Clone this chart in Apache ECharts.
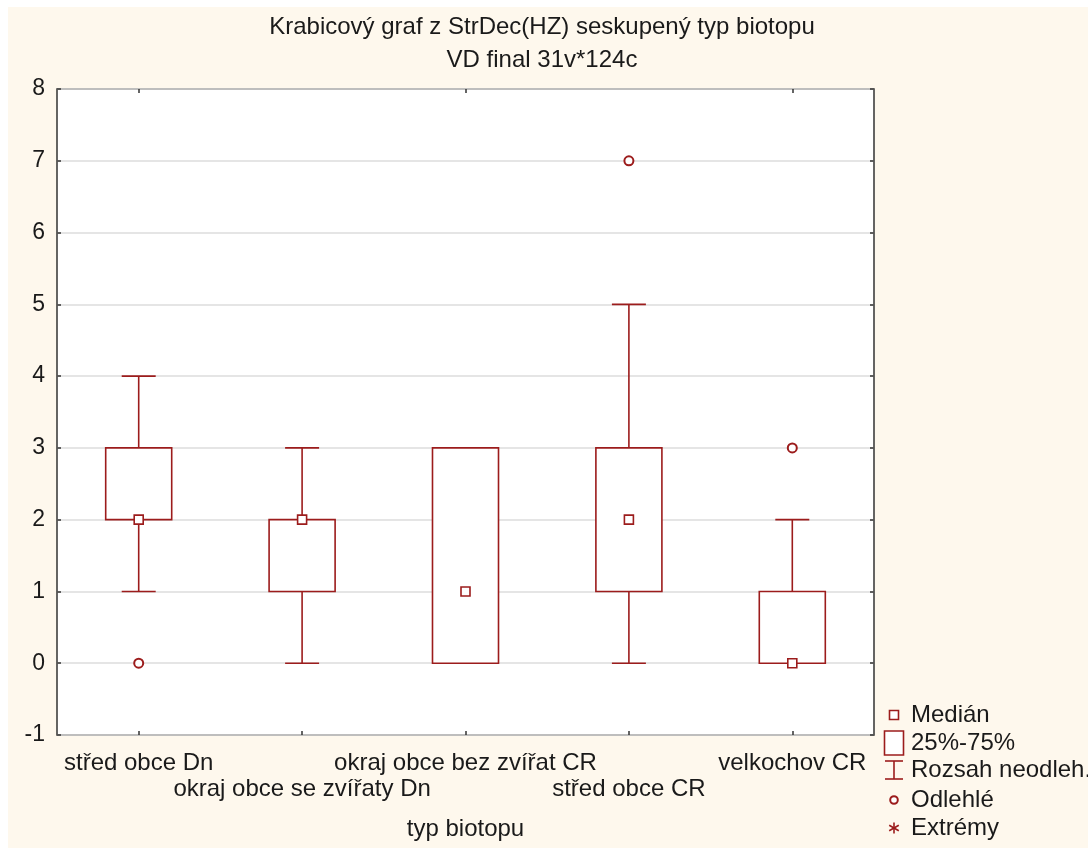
<!DOCTYPE html>
<html>
<head>
<meta charset="utf-8">
<script src="https://cdn.jsdelivr.net/npm/echarts@6/dist/echarts.min.js"></script>
<style>
  html, body { margin: 0; padding: 0; background: #ffffff; }
  #bg { position: absolute; left: 8px; top: 7px; width: 1080px; height: 841px; background: #fef8ed; }
  #chart { position: absolute; left: 0; top: 0; width: 1088px; height: 848px; }
</style>
</head>
<body>
<div id="bg"></div>
<div id="chart"></div>
<script>
// ---- data ----
const titleLines = ['Krabicový graf z StrDec(HZ) seskupený typ biotopu', 'VD final 31v*124c'];
const xAxisName = 'typ biotopu';
const categories = ['střed obce Dn', 'okraj obce se zvířaty Dn', 'okraj obce bez zvířat CR', 'střed obce CR', 'velkochov CR'];
const whiskerLow  = [1, 0, 0, 0, 0];
const q1          = [2, 1, 0, 1, 0];
const median      = [2, 2, 1, 2, 0];
const q3          = [3, 2, 3, 3, 1];
const whiskerHigh = [4, 3, 3, 5, 2];
const outlierCat  = [0, 3, 4];
const outlierVal  = [0, 7, 3];
const extremeCat  = [];
const extremeVal  = [];
const yTicks = [-1, 0, 1, 2, 3, 4, 5, 6, 7, 8];
const legendLabels = ['Medián', '25%-75%', 'Rozsah neodleh.', 'Odlehlé', 'Extrémy'];

// ---- style ----
const RED = '#9c1c1c';
const FONT = '"Liberation Sans", Arial, sans-serif';
const FS = 24;

const boxData = categories.map((c, i) => [i, whiskerLow[i], q1[i], median[i], q3[i], whiskerHigh[i]]);
const medianData = categories.map((c, i) => [i, median[i]]);
const outlierData = outlierCat.map((c, i) => [c, outlierVal[i]]);
const extremeData = extremeCat.map((c, i) => [c, extremeVal[i]]);

function renderBox(params, api) {
  const i = api.value(0);
  const lo = api.coord([i, api.value(1)]);
  const b1 = api.coord([i, api.value(2)]);
  const b3 = api.coord([i, api.value(4)]);
  const hi = api.coord([i, api.value(5)]);
  const cw = api.size([1, 0])[0];
  const bw = cw * 0.404;
  const capw = cw * 0.208;
  const x = b1[0];
  const ls = { stroke: RED, lineWidth: 1.6, fill: null };
  const children = [];
  if (Math.abs(lo[1] - b1[1]) > 0.5) {
    children.push({ type: 'line', shape: { x1: x, y1: b1[1], x2: x, y2: lo[1] }, style: ls });
    children.push({ type: 'line', shape: { x1: x - capw / 2, y1: lo[1], x2: x + capw / 2, y2: lo[1] }, style: ls });
  }
  if (Math.abs(hi[1] - b3[1]) > 0.5) {
    children.push({ type: 'line', shape: { x1: x, y1: b3[1], x2: x, y2: hi[1] }, style: ls });
    children.push({ type: 'line', shape: { x1: x - capw / 2, y1: hi[1], x2: x + capw / 2, y2: hi[1] }, style: ls });
  }
  children.push({ type: 'rect', shape: { x: x - bw / 2, y: b3[1], width: bw, height: b1[1] - b3[1] },
    style: { stroke: RED, lineWidth: 1.6, fill: '#ffffff' } });
  return { type: 'group', children };
}

// legend graphics
const LX = 894, LT = 911;
const legY = [715, 743, 770, 800, 828];
const lineStyle = { stroke: RED, lineWidth: 1.6, fill: null };
const graphics = [
  { type: 'rect', shape: { x: LX - 4.5, y: legY[0] - 4.5, width: 9, height: 9 }, style: { stroke: RED, lineWidth: 1.6, fill: '#fff' } },
  { type: 'rect', shape: { x: LX - 9.5, y: legY[1] - 12, width: 19, height: 24 }, style: { stroke: RED, lineWidth: 1.6, fill: '#fff' } },
  { type: 'line', shape: { x1: LX - 9, y1: legY[2] - 9, x2: LX + 9, y2: legY[2] - 9 }, style: lineStyle },
  { type: 'line', shape: { x1: LX - 9, y1: legY[2] + 9, x2: LX + 9, y2: legY[2] + 9 }, style: lineStyle },
  { type: 'line', shape: { x1: LX, y1: legY[2] - 9, x2: LX, y2: legY[2] + 9 }, style: lineStyle },
  { type: 'circle', shape: { cx: LX, cy: legY[3], r: 3.8 }, style: { stroke: RED, lineWidth: 2, fill: '#fff' } },
  { type: 'line', shape: { x1: LX, y1: legY[4] - 5.5, x2: LX, y2: legY[4] + 5.5 }, style: lineStyle },
  { type: 'line', shape: { x1: LX - 4.8, y1: legY[4] - 2.8, x2: LX + 4.8, y2: legY[4] + 2.8 }, style: lineStyle },
  { type: 'line', shape: { x1: LX - 4.8, y1: legY[4] + 2.8, x2: LX + 4.8, y2: legY[4] - 2.8 }, style: lineStyle }
];
legendLabels.forEach((t, k) => {
  graphics.push({ type: 'text', x: LT, y: legY[k],
    style: { text: t, font: FS + 'px ' + FONT, fill: '#1a1a1a', textVerticalAlign: 'middle', textAlign: 'left' } });
});
const titleY = [27, 60];
titleLines.forEach((t, k) => {
  graphics.push({ type: 'text', x: 542, y: titleY[k],
    style: { text: t, font: FS + 'px ' + FONT, fill: '#1a1a1a', textVerticalAlign: 'middle', textAlign: 'center' } });
});

const chart = echarts.init(document.getElementById('chart'), null, { renderer: 'canvas' });
chart.setOption({
  backgroundColor: 'transparent',
  animation: false,
  grid: { left: 57, right: 214, top: 89, bottom: 113, show: true, backgroundColor: '#ffffff', borderColor: '#333333', borderWidth: 1.5 },
  xAxis: [
    {
      type: 'category', data: categories, boundaryGap: true, position: 'bottom',
      axisLine: { show: false, onZero: false },
      axisTick: { show: true, inside: true, alignWithLabel: true, length: 4, lineStyle: { color: '#333', width: 1.5 } },
      axisLabel: {
        interval: 0, margin: 15, fontFamily: FONT, fontSize: FS, color: '#1a1a1a', lineHeight: 26,
        formatter: (v, i) => (i % 2 === 1 ? '\n' + v : v)
      },
      splitLine: { show: false },
      name: xAxisName, nameLocation: 'middle', nameGap: 82,
      nameTextStyle: { fontFamily: FONT, fontSize: FS, color: '#1a1a1a' }
    },
    {
      type: 'category', data: categories, boundaryGap: true, position: 'top',
      axisLine: { show: false, onZero: false },
      axisTick: { show: true, inside: true, alignWithLabel: true, length: 4, lineStyle: { color: '#333', width: 1.5 } },
      axisLabel: { show: false }, splitLine: { show: false }
    }
  ],
  yAxis: [
    {
      type: 'value', min: yTicks[0], max: yTicks[yTicks.length - 1], interval: 1, position: 'left',
      axisLine: { show: false, onZero: false },
      axisTick: { show: true, inside: true, length: 4, lineStyle: { color: '#333', width: 1.5 } },
      axisLabel: { margin: 12, fontFamily: FONT, fontSize: 23, color: '#1a1a1a' },
      splitLine: { show: true, lineStyle: { color: '#dddddd', width: 1.5 } }
    },
    {
      type: 'value', min: yTicks[0], max: yTicks[yTicks.length - 1], interval: 1, position: 'right',
      axisLine: { show: false, onZero: false },
      axisTick: { show: true, inside: true, length: 4, lineStyle: { color: '#333', width: 1.5 } },
      axisLabel: { show: false }, splitLine: { show: false }
    }
  ],
  series: [
    { type: 'custom', data: boxData, renderItem: renderBox, encode: { x: 0, y: [1, 2, 3, 4, 5] }, z: 2 },
    { type: 'scatter', data: medianData, symbol: 'rect', symbolSize: 9,
      itemStyle: { color: '#ffffff', borderColor: RED, borderWidth: 1.6, opacity: 1 }, z: 3 },
    { type: 'scatter', data: outlierData, symbol: 'circle', symbolSize: 9,
      itemStyle: { color: '#ffffff', borderColor: RED, borderWidth: 2, opacity: 1 }, z: 3 },
    { type: 'scatter', data: extremeData, symbol: 'path://M0,-5L0,5M-4.3,-2.5L4.3,2.5M-4.3,2.5L4.3,-2.5', symbolSize: 11,
      itemStyle: { color: 'none', borderColor: RED, borderWidth: 1.6 }, z: 3 }
  ],
  graphic: graphics
});
</script>
</body>
</html>
